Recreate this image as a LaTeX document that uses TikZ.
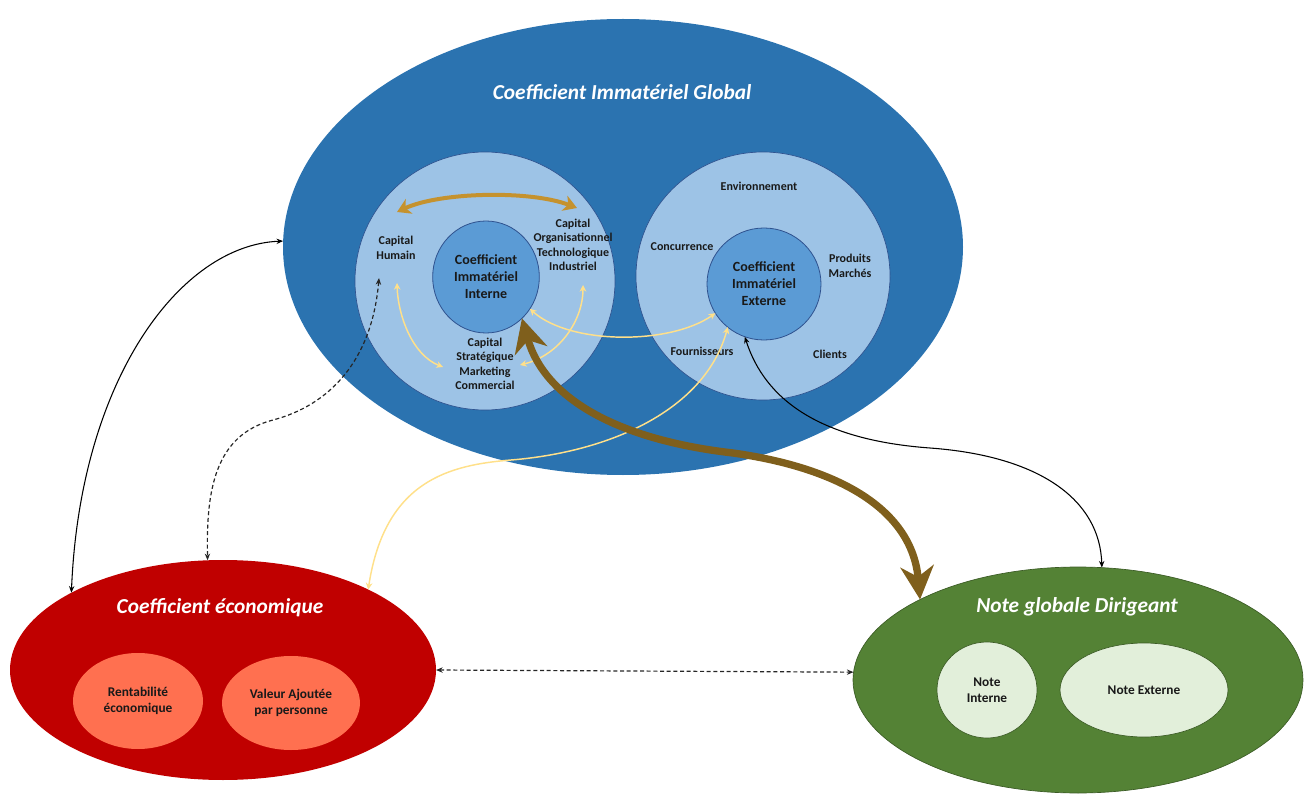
\documentclass[tikz,border=0pt]{standalone}
\usepackage{fontspec}
\setmainfont{Carlito}
\usetikzlibrary{shapes.geometric,arrows.meta}

\definecolor{globalblue}{HTML}{2B73B0}
\definecolor{ringblue}{HTML}{9DC3E6}
\definecolor{coreblue}{HTML}{5B9BD5}
\definecolor{edgeblue}{HTML}{2F528F}
\definecolor{ecored}{HTML}{C00000}
\definecolor{ecocoral}{HTML}{FF7050}
\definecolor{notegreen}{HTML}{548235}
\definecolor{notelight}{HTML}{E2EFDA}
\definecolor{goldline}{HTML}{C5922E}
\definecolor{paleyellow}{HTML}{FFE08A}
\definecolor{brownline}{HTML}{7F5F1C}

\tikzset{every picture/.style={line width=0.75pt}}
\tikzset{
  blob/.style={ellipse, inner sep=0pt, outer sep=0pt},
  title/.style={font=\bfseries\itshape\fontsize{16}{19}\selectfont, text=white},
  lbl/.style={font=\bfseries\fontsize{9}{10.8}\selectfont, align=center, text=black!90},
  corelbl/.style={font=\bfseries\fontsize{10.5}{12.7}\selectfont, align=center, text=black!90},
  sublbl/.style={font=\bfseries\fontsize{10}{11.6}\selectfont, align=center, text=black!90},
  goldarrow/.style={draw=goldline, line width=3pt, >={Stealth[length=10pt,width=12pt,inset=3pt]}, <->},
  palearrow/.style={draw=paleyellow, line width=1.1pt, >={Stealth[length=5pt,width=5pt]}, <->},
  blackarrow/.style={draw=black, line width=0.8pt, >={Stealth[length=5pt,width=4pt]}, <->},
  dasharrow/.style={draw=black!85, line width=0.9pt, dash pattern=on 3pt off 2pt, >={Stealth[length=5pt,width=4pt]}, <->},
  brownarrow/.style={draw=brownline, line width=5.5pt, >={Stealth[length=25pt,width=25pt,inset=8pt]}, <->}
}

\begin{document}
\begin{tikzpicture}[x=0.75pt,y=0.75pt,yscale=-1,xscale=1]
\path[use as bounding box] (0,0) rectangle (1311,795);

%Shape: Ellipse
\node[blob, fill=globalblue, minimum width=510pt, minimum height=342pt] (global) at (623,247) {};
%Shape: Circle
\node[blob, fill=ringblue, draw=edgeblue, line width=0.5pt, minimum width=195pt, minimum height=193.5pt] (ringL) at (485,281) {};
%Shape: Circle
\node[blob, fill=ringblue, draw=edgeblue, line width=0.5pt, minimum width=190.5pt, minimum height=186pt] (ringR) at (763,276) {};
%Shape: Circle
\node[blob, corelbl, fill=coreblue, draw=edgeblue, line width=0.6pt, minimum width=80pt, minimum height=84pt] (cii) at (486,277) {Coefficient\\Immatériel\\Interne};
%Shape: Circle
\node[blob, corelbl, fill=coreblue, draw=edgeblue, line width=0.6pt, minimum width=85.5pt, minimum height=84pt] (cie) at (764,284) {Coefficient\\Immatériel\\Externe};

%Shape: Ellipse
\node[blob, fill=ecored, minimum width=319.5pt, minimum height=165pt] (eco) at (223,670) {};
\node[blob, sublbl, fill=ecocoral, minimum width=97.5pt, minimum height=72pt] (rent) at (138,701) {Rentabilité\\économique};
\node[blob, sublbl, fill=ecocoral, minimum width=103.5pt, minimum height=70.5pt] (vaj) at (291,703) {Valeur Ajoutée\\par personne};

%Shape: Ellipse
\node[blob, fill=notegreen, draw=notegreen!70!black, line width=0.5pt, minimum width=337.5pt, minimum height=169.5pt] (note) at (1078,680) {};
\node[blob, sublbl, fill=notelight, draw=notegreen!70!black, line width=0.5pt, minimum width=75pt, minimum height=72pt] (ni) at (987,690) {Note\\Interne};
\node[blob, sublbl, fill=notelight, draw=notegreen!70!black, line width=0.5pt, minimum width=126pt, minimum height=70.5pt] (ne) at (1144,690) {Note Externe};

% Text Node
\node[title] (globalT) at (622,92) {Coefficient Immatériel Global};
% Text Node
\node[title] (ecoT) at (220,608) {Coefficient économique};
% Text Node
\node[title] (noteT) at (1077,607) {Note globale Dirigeant};

% Text Node
\node[lbl] (humain) at (396,248) {Capital\\Humain};
% Text Node
\node[lbl] (orga) at (573,245) {Capital\\Organisationnel\\Technologique\\Industriel};
% Text Node
\node[lbl] (strat) at (485,364) {Capital\\Stratégique\\Marketing\\Commercial};
% Text Node
\node[lbl] (env) at (759,186) {Environnement};
% Text Node
\node[lbl] (conc) at (682,247) {Concurrence};
% Text Node
\node[lbl] (prod) at (850,266) {Produits\\Marchés};
% Text Node
\node[lbl] (four) at (702,351) {Fournisseurs};
% Text Node
\node[lbl] (cli) at (830,354) {Clients};

% free ends inside the left ring
\coordinate (goldL) at (397,212);
\coordinate (goldR) at (577,208);
\coordinate (humA) at (397,283);
\coordinate (stratL) at (443,367);
\coordinate (orgA) at (583,285);
\coordinate (stratR) at (520,365);
\coordinate (humB) at (379,278);

%Curve Lines
\draw[goldarrow] (goldL) .. controls (440,192) and (530,190) .. (goldR);
%Curve Lines
\draw[palearrow] (humA) .. controls (398,315) and (412,355) .. (stratL);
%Curve Lines
\draw[palearrow] (orgA) .. controls (583,320) and (560,355) .. (stratR);
%Curve Lines
\draw[palearrow] (cii.-36) .. controls (570,345) and (670,345) .. (cie.211);
%Curve Lines
\draw[palearrow] (eco.29) .. controls (385,480) and (450,465) .. (511,460) .. controls (610,452) and (705,410) .. (cie.230);

%Curve Lines
\draw[brownarrow] (cii.311) .. controls (545,400) and (620,440) .. (733,453) .. controls (840,468) and (912,510) .. (note.153);

%Curve Lines
\draw[blackarrow] (global.179) .. controls (180,245) and (80,380) .. (eco.153);
%Curve Lines
\draw[blackarrow] (cie.250) .. controls (765,400) and (820,440) .. (930,448) .. controls (1040,456) and (1100,500) .. (note.78);

%Curve Lines
\draw[dasharrow] (humB) .. controls (372,360) and (330,405) .. (273,420) .. controls (215,435) and (206,490) .. (eco.98);
%Straight Lines
\draw[dasharrow] (eco.east) -- (note.178);

\end{tikzpicture}
\end{document}
